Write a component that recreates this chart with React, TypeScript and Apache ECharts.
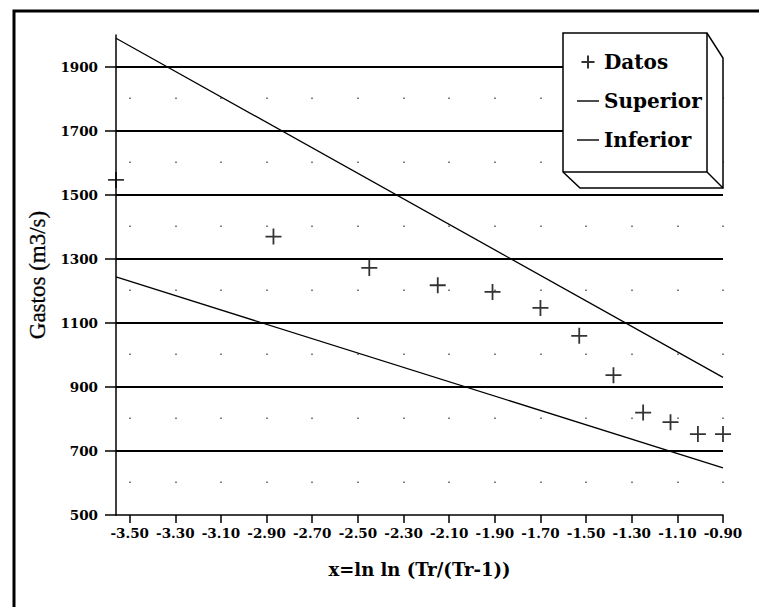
import React, { useEffect, useRef } from "react";
import * as echarts from "echarts";

const datosX = [-3.56, -2.87, -2.45, -2.15, -1.91, -1.70, -1.53, -1.38, -1.25, -1.13, -1.01, -0.90];
const datosY = [1547, 1370, 1272, 1218, 1197, 1147, 1060, 937, 820, 790, 753, 753];
const superiorX = [-3.56, -0.90];
const superiorY = [1990, 930];
const inferiorX = [-3.56, -0.90];
const inferiorY = [1244, 647];
const xTicks = [-3.5, -3.3, -3.1, -2.9, -2.7, -2.5, -2.3, -2.1, -1.9, -1.7, -1.5, -1.3, -1.1, -0.9];
const yTicks = [500, 700, 900, 1100, 1300, 1500, 1700, 1900];
const gridY = [700, 900, 1100, 1300, 1500, 1700, 1900];

const FONT = "'Liberation Serif', 'Times New Roman', serif";
const BFONT = "'DejaVu Serif', serif";
const PLUS = "path://M0,7.5H15M7.5,0V15";
const DASH = "path://M0,0H22V1.4H0Z";
const boldText = (size: number) => ({
  fontFamily: BFONT,
  fontSize: size,
  fontWeight: "bold",
  color: "#000",
});

export default function App() {
  const ref = useRef<HTMLDivElement>(null);
  useEffect(() => {
    if (!ref.current) return;
    const chart = echarts.init(ref.current, undefined, { renderer: "svg" });
    const zip = (xs: number[], ys: number[]) => xs.map((x, i) => [x, ys[i]]);
    chart.setOption({
      animation: false,
      backgroundColor: "#fff",
      grid: { left: 116, right: 36, top: 35, bottom: 92 },
      xAxis: {
        type: "value",
        min: -3.56,
        max: -0.9,
        name: "x=ln ln (Tr/(Tr-1))",
        nameLocation: "middle",
        nameGap: 45,
        nameTextStyle: boldText(18),
        axisLine: { show: true, onZero: false, lineStyle: { color: "#000", width: 1.5 } },
        axisTick: { show: true, length: 8, customValues: xTicks, lineStyle: { color: "#000", width: 1.5 } },
        axisLabel: {
          customValues: xTicks,
          margin: 11,
          ...boldText(13.5),
          formatter: (v: number) => v.toFixed(2),
        },
        splitLine: { show: false },
      },
      yAxis: {
        type: "value",
        min: 500,
        max: 2000,
        name: "Gastos (m3/s)",
        nameLocation: "middle",
        nameRotate: 90,
        nameGap: 56,
        nameTextStyle: {
          fontFamily: FONT,
          fontSize: 23,
          color: "#000",
          textBorderColor: "#000",
          textBorderWidth: 0.3,
        },
        axisLine: { show: true, onZero: false, lineStyle: { color: "#000", width: 1.5 } },
        axisTick: { show: true, length: 11, customValues: yTicks, lineStyle: { color: "#000", width: 1.5 } },
        axisLabel: {
          customValues: yTicks,
          margin: 18,
          ...boldText(13.5),
          formatter: (v: number) => String(v),
        },
        splitLine: { show: false },
      },
      legend: {
        orient: "vertical",
        left: 577,
        top: 52,
        padding: 0,
        itemWidth: 22,
        itemHeight: 13,
        itemGap: 19,
        textStyle: boldText(20),
        data: [
          { name: "Datos", icon: PLUS },
          { name: "Superior", icon: DASH },
          { name: "Inferior", icon: DASH },
        ],
        z: 20,
      },
      graphic: [
        {
          type: "polyline",
          z: 15,
          shape: { points: [[14, 607], [14, 11], [759, 11]] },
          style: { stroke: "#000", lineWidth: 3, fill: "none" },
        },
        {
          type: "polygon",
          z: 15,
          shape: { points: [[563, 33], [707, 33], [723, 58], [723, 188], [580, 188], [563, 172]] },
          style: { stroke: "#000", lineWidth: 1.5, fill: "#fff" },
        },
        {
          type: "polyline",
          z: 16,
          shape: { points: [[707, 33], [707, 172], [563, 172]] },
          style: { stroke: "#000", lineWidth: 1.5, fill: "none" },
        },
        {
          type: "line",
          z: 16,
          shape: { x1: 707, y1: 172, x2: 723, y2: 188 },
          style: { stroke: "#000", lineWidth: 1.5 },
        },
      ],
      series: [
        {
          name: "Datos",
          type: "scatter",
          data: zip(datosX, datosY),
          symbol: PLUS,
          symbolSize: 16,
          clip: false,
          itemStyle: { color: "#000", borderColor: "#000", borderWidth: 1.8 },
          z: 5,
          markLine: {
            silent: true,
            symbol: "none",
            label: { show: false },
            lineStyle: { color: "#000", width: 1.8, type: "solid" },
            data: gridY.map((v) => ({ yAxis: v })),
            z: 2,
          },
        },
        {
          name: "Grid",
          type: "line",
          data: [],
          markLine: {
            silent: true,
            symbol: "none",
            label: { show: false },
            lineStyle: { color: "#555", width: 1.5, type: [1.5, 62.5], dashOffset: 32 },
            data: xTicks.map((v) => ({ xAxis: v })),
            z: 1,
          },
        },
        {
          name: "Superior",
          type: "line",
          data: zip(superiorX, superiorY),
          symbol: "none",
          lineStyle: { color: "#000", width: 1.3 },
          itemStyle: { color: "#000" },
          z: 4,
        },
        {
          name: "Inferior",
          type: "line",
          data: zip(inferiorX, inferiorY),
          symbol: "none",
          lineStyle: { color: "#000", width: 1.3 },
          itemStyle: { color: "#000" },
          z: 4,
        },
      ],
    });
    return () => chart.dispose();
  }, []);
  return (
    <div
      ref={ref}
      style={{ position: "fixed", left: 0, top: 0, width: 759, height: 607, background: "#fff" }}
    />
  );
}
